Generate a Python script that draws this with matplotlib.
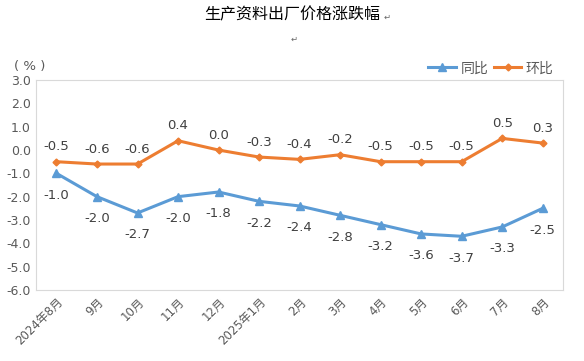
import matplotlib
matplotlib.use('Agg')
import matplotlib.pyplot as plt
import numpy as np

plt.rcParams['font.family'] = ['DejaVu Sans', 'Noto Sans CJK SC']

months = ['2024年8月', '9月', '10月', '11月', '12月', '2025年1月', '2月', '3月',
          '4月', '5月', '6月', '7月', '8月']
tongbi = [-1.0, -2.0, -2.7, -2.0, -1.8, -2.2, -2.4, -2.8, -3.2, -3.6, -3.7, -3.3, -2.5]
huanbi = [-0.5, -0.6, -0.6, 0.4, 0.0, -0.3, -0.4, -0.2, -0.5, -0.5, -0.5, 0.5, 0.3]

blue = '#5B9BD5'
orange = '#ED7D31'
txt = '#404040'
gray = '#595959'

fig = plt.figure(figsize=(5.84, 3.61), dpi=100)
ax = fig.add_axes([0.062, 0.197, 0.902, 0.581])

x = np.arange(len(months))
ax.plot(x, tongbi, color=blue, lw=2.2, marker='^', ms=6, label='同比')
ax.plot(x, huanbi, color=orange, lw=2.2, marker='D', ms=3.5, label='环比')

for i, v in enumerate(tongbi):
    ax.annotate(f'{v:.1f}', (i, v), xytext=(0, -11), textcoords='offset points',
                ha='center', va='top', fontsize=9.5, color=txt)
for i, v in enumerate(huanbi):
    ax.annotate(f'{v:.1f}', (i, v), xytext=(0, 6), textcoords='offset points',
                ha='center', va='bottom', fontsize=9.5, color=txt)

ax.set_xlim(-0.5, len(months) - 0.5)
ax.set_ylim(-6, 3)
ax.set_yticks(np.arange(-6, 3.1, 1))
ax.set_yticklabels([f'{v:.1f}' for v in np.arange(-6, 3.1, 1)])
ax.set_xticks(x)
ax.set_xticklabels(months, rotation=45, ha='right', rotation_mode='anchor')
ax.tick_params(axis='x', labelcolor=gray, labelsize=8.5, length=0, pad=4)
ax.tick_params(axis='y', labelcolor=gray, labelsize=9, length=0, pad=4)
for s in ax.spines.values():
    s.set_color('#D9D9D9')

fig.text(0.50, 0.958, '生产资料出厂价格涨跌幅', ha='center', va='center', fontsize=11.5,
         color='black', family='Noto Sans CJK SC')
fig.text(0.657, 0.952, '↵', ha='left', va='center', fontsize=6, color='#666666')
fig.text(0.503, 0.892, '↵', ha='center', va='center', fontsize=6, color='#666666')
fig.text(0.05, 0.815, '( % )', ha='center', va='center', fontsize=9.5, color=gray)

leg = ax.legend(loc='lower right', bbox_to_anchor=(0.995, 0.99), ncol=2, frameon=False,
                fontsize=10, handlelength=2.0, columnspacing=0.4, handletextpad=0.3,
                borderaxespad=0.1, labelcolor=gray)

fig.savefig('out.png', dpi=100)
